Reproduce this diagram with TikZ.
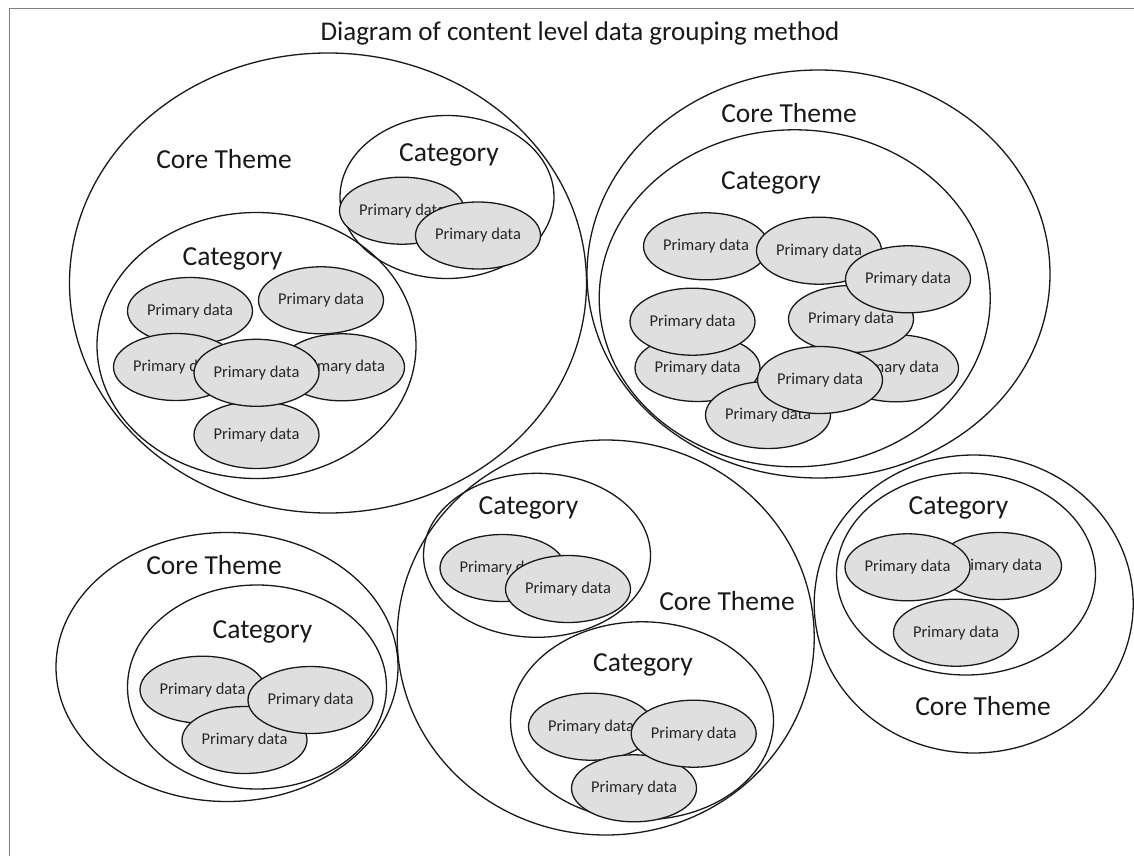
\documentclass[tikz,border=0pt]{standalone}
\usepackage{fontspec}
\setmainfont{Carlito}
\usetikzlibrary{shapes.geometric}
\begin{document}
\begin{tikzpicture}[x=1pt,y=-1pt,
  container/.style={draw=black!90, ellipse, line width=1.3pt, inner sep=0pt},
  pd/.style={draw=black!90, ellipse, fill=gray!25, line width=1.3pt, minimum width=125pt, minimum height=67pt, inner sep=0pt, text=black!85, font=\fontsize{16.5}{19}\selectfont},
  lbl/.style={font=\fontsize{27.5}{30}\selectfont, inner sep=0pt, text=black!90},
  frameline/.style={draw=gray, line width=1.8pt},
]
\useasboundingbox (0,0) rectangle (1134,856);
\fill[white] (0,0) rectangle (1134,856);
\draw[frameline] (9.5,856) -- (9.5,8.5) -- (1134,8.5);

\node[font=\fontsize{27}{30}\selectfont, inner sep=0pt, text=black!90] (title) at (580,33) {Diagram of content level data grouping method};

% containers
\node[container, minimum width=517pt, minimum height=460pt] (ct1) at (328,283) {};
\node[container, minimum width=214pt, minimum height=163pt] (cat1a) at (447,197) {};
\node[container, minimum width=319pt, minimum height=266pt] (cat1b) at (256.5,345.5) {};
\node[container, minimum width=463pt, minimum height=408pt] (ct2) at (818.5,274) {};
\node[container, minimum width=391pt, minimum height=337pt] (cat2) at (794.7,298.3) {};
\node[container, minimum width=417pt, minimum height=395pt] (ct3) at (605.7,637.5) {};
\node[container, minimum width=227pt, minimum height=164pt] (cat3a) at (537,555.3) {};
\node[container, minimum width=263pt, minimum height=198pt] (cat3b) at (642,720.8) {};
\node[container, minimum width=342pt, minimum height=269pt] (ct4) at (227,667) {};
\node[container, minimum width=259pt, minimum height=204pt] (cat4) at (257,687) {};
\node[container, minimum width=319pt, minimum height=298pt] (ct5) at (973.7,604) {};
\node[container, minimum width=259pt, minimum height=202pt] (cat5) at (966,574) {};

% labels
\node[lbl] (ct1l) at (224,159) {Core Theme};
\node[lbl] (cat1al) at (449,155) {Category};
\node[lbl] (cat1bl) at (232.5,259) {Category};
\node[lbl] (ct2l) at (789,113) {Core Theme};
\node[lbl] (cat2l) at (771,183) {Category};
\node[lbl] (ct3l) at (727,601) {Core Theme};
\node[lbl] (cat3al) at (528.5,508) {Category};
\node[lbl] (cat3bl) at (643,665) {Category};
\node[lbl] (ct4l) at (214,565) {Core Theme};
\node[lbl] (cat4l) at (262.5,632) {Category};
\node[lbl] (ct5l) at (983,706) {Core Theme};
\node[lbl] (cat5l) at (958.5,508) {Category};

% primary data: core theme 1
\node[pd] (p1a) at (402,210.7) {Primary data};
\node[pd] (p1b) at (478,235.5) {Primary data};
\node[pd] (p1c) at (190,311) {Primary data};
\node[pd] (p1d) at (321,300.3) {Primary data};
\node[pd] (p1e) at (176,367) {Primary data};
\node[pd] (p1f) at (342,367.3) {Primary data};
\node[pd] (p1g) at (256.5,435) {Primary data};
\node[pd] (p1h) at (256.5,372.8) {Primary data};

% core theme 2
\node[pd] (p2a) at (706,246.3) {Primary data};
\node[pd] (p2b) at (819,250.7) {Primary data};
\node[pd] (p2c) at (896,368.3) {Primary data};
\node[pd] (p2d) at (851,319) {Primary data};
\node[pd] (p2e) at (908,279.3) {Primary data};
\node[pd] (p2f) at (697.5,368) {Primary data};
\node[pd] (p2g) at (692.5,321.7) {Primary data};
\node[pd] (p2h) at (768,415) {Primary data};
\node[pd] (p2i) at (820,380) {Primary data};

% core theme 3
\node[pd] (p3a) at (502.5,568) {Primary data};
\node[pd] (p3b) at (568,589) {Primary data};
\node[pd] (p3c) at (591,726.7) {Primary data};
\node[pd] (p3d) at (634,788.3) {Primary data};
\node[pd] (p3e) at (693.7,733.7) {Primary data};

% core theme 4
\node[pd] (p4a) at (202.5,689.7) {Primary data};
\node[pd] (p4b) at (244.5,740) {Primary data};
\node[pd] (p4c) at (310.5,700) {Primary data};

% core theme 5
\node[pd] (p5a) at (999,566) {Primary data};
\node[pd] (p5b) at (907.5,567.3) {Primary data};
\node[pd] (p5c) at (956,632.7) {Primary data};
\end{tikzpicture}
\end{document}
